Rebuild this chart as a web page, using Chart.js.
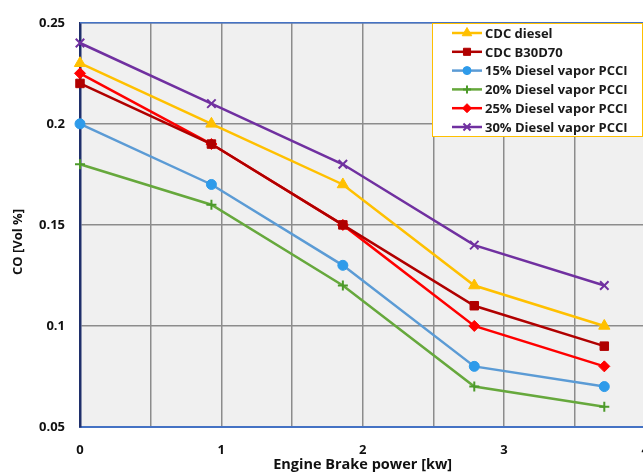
<!DOCTYPE html>
<html>
<head>
<meta charset="utf-8">
<script src="https://cdn.jsdelivr.net/npm/chart.js@4/dist/chart.umd.min.js"></script>
<style>
  html, body { margin: 0; padding: 0; background: #fff; overflow: hidden; }
  #wrap { width: 664px; height: 472px; }
</style>
</head>
<body>
<div id="wrap"><canvas id="coChart" width="664" height="472"></canvas></div>
<script>
// engine brake power [kw]
const powerKw = [0, 0.93, 1.86, 2.79, 3.71];

const seriesLabels = [
    'CDC diesel',
    'CDC B30D70',
    '15% Diesel vapor PCCI',
    '20% Diesel vapor PCCI',
    '25% Diesel vapor PCCI',
    '30% Diesel vapor PCCI'
];

// CO [Vol %]
const cdcDiesel = [0.23, 0.20, 0.17, 0.12, 0.10];
const cdcB30D70 = [0.22, 0.19, 0.15, 0.11, 0.09];
const pcci15 = [0.20, 0.17, 0.13, 0.08, 0.07];
const pcci20 = [0.18, 0.16, 0.12, 0.07, 0.06];
const pcci25 = [0.225, 0.19, 0.15, 0.10, 0.08];
const pcci30 = [0.24, 0.21, 0.18, 0.14, 0.12];

const yTicks = [0.05, 0.1, 0.15, 0.2, 0.25];
const xTicks = [0, 1, 2, 3, 4];
const yTitle = 'CO [Vol %]';

const FONT = '"Open Sans", sans-serif';

function toPoints(vals) {
    return vals.map((v, i) => ({ x: powerKw[i], y: v }));
}

function makeSet(label, vals, color, markColor, style, radius) {
    return {
        label: label,
        data: toPoints(vals),
        borderColor: color,
        backgroundColor: markColor,
        pointBackgroundColor: markColor,
        pointBorderColor: markColor,
        pointBorderWidth: (style === 'cross' || style === 'crossRot') ? 2 : 1,
        pointStyle: style,
        pointRadius: radius,
        borderWidth: 2.5,
        tension: 0,
        fill: false,
        clip: false
    };
}

const datasets = [
    makeSet(seriesLabels[0], cdcDiesel, '#FFC000', '#FFC000', 'triangle', 6.5),
    makeSet(seriesLabels[1], cdcB30D70, '#B00000', '#B00000', 'rect', 6),
    makeSet(seriesLabels[2], pcci15, '#5B9BD5', '#2E9BEA', 'circle', 5),
    makeSet(seriesLabels[3], pcci20, '#66A83C', '#4C9A2A', 'cross', 5),
    makeSet(seriesLabels[4], pcci25, '#FF0000', '#FF0000', 'rectRot', 5.5),
    makeSet(seriesLabels[5], pcci30, '#7030A0', '#7030A0', 'crossRot', 6)
];

// grey plot background, thin top border, y title
const plotFrame = {
    id: 'plotFrame',
    beforeDraw(chart) {
        const { ctx, chartArea: a } = chart;
        ctx.save();
        ctx.fillStyle = '#F0F0F0';
        ctx.fillRect(a.left, a.top, a.right - a.left, a.bottom - a.top);
        ctx.restore();
    },
    afterDraw(chart) {
        const { ctx, chartArea: a } = chart;
        ctx.save();
        ctx.strokeStyle = '#4472C4';
        ctx.lineWidth = 1.5;
        ctx.beginPath();
        ctx.moveTo(a.left, a.top);
        ctx.lineTo(a.right, a.top);
        ctx.stroke();

        ctx.translate(18, 242);
        ctx.rotate(-Math.PI / 2);
        ctx.font = 'bold 13px ' + FONT;
        ctx.fillStyle = '#111';
        ctx.textAlign = 'center';
        ctx.textBaseline = 'middle';
        ctx.fillText(yTitle, 0, 0);
        ctx.restore();
    }
};

// legend box inside the plot, top right
const insideLegend = {
    id: 'insideLegend',
    afterDraw(chart) {
        const ctx = chart.ctx;
        const x0 = 432, y0 = 23, w = 210, h = 113;
        const rowH = 18.8;
        ctx.save();
        ctx.fillStyle = '#FFFFFF';
        ctx.fillRect(x0, y0, w, h);
        ctx.strokeStyle = '#FFC000';
        ctx.lineWidth = 1;
        ctx.strokeRect(x0 + 0.5, y0 + 0.5, w, h);
        ctx.font = 'bold 13px ' + FONT;
        ctx.textBaseline = 'middle';
        chart.data.datasets.forEach((ds, i) => {
            const cy = y0 + 10 + i * rowH;
            ctx.strokeStyle = ds.borderColor;
            ctx.lineWidth = 2.5;
            ctx.beginPath();
            ctx.moveTo(x0 + 20, cy);
            ctx.lineTo(x0 + 50, cy);
            ctx.stroke();
            ctx.fillStyle = ds.pointBackgroundColor;
            ctx.strokeStyle = ds.pointBorderColor;
            ctx.lineWidth = ds.pointBorderWidth;
            Chart.helpers.drawPoint(ctx, {
                pointStyle: ds.pointStyle,
                radius: ds.pointRadius - 1,
                borderWidth: ds.pointBorderWidth,
                rotation: 0
            }, x0 + 35, cy);
            ctx.fillStyle = '#1A1A1A';
            ctx.fillText(ds.label, x0 + 53, cy + 1);
        });
        ctx.restore();
    }
};

new Chart(document.getElementById('coChart'), {
    type: 'line',
    data: { datasets: datasets },
    options: {
        responsive: false,
        animation: false,
        layout: { padding: { top: 11, right: 12, left: 0, bottom: 0 } },
        plugins: {
            legend: { display: false },
            tooltip: { enabled: false }
        },
        scales: {
            x: {
                type: 'linear',
                min: 0,
                max: 4,
                afterBuildTicks: (s) => {
                    const t = [];
                    for (let v = 0; v <= 4.001; v += 0.5) t.push({ value: v });
                    s.ticks = t;
                },
                afterFit: (s) => { s.height = 45; },
                grid: { color: '#8C8C8C', lineWidth: 1.5, drawTicks: false },
                border: { color: '#4472C4', width: 2 },
                ticks: {
                    padding: 15,
                    color: '#111',
                    font: { family: FONT, weight: 'bold', size: 13 },
                    maxRotation: 0,
                    autoSkip: false,
                    callback: (v) => xTicks.includes(v) ? String(v) : ''
                },
                title: {
                    display: true,
                    text: 'Engine Brake power [kw]',
                    color: '#111',
                    font: { family: FONT, weight: 'bold', size: 14.5 },
                    padding: { top: 0, bottom: -2 }
                }
            },
            y: {
                min: 0.05,
                max: 0.25,
                afterBuildTicks: (s) => { s.ticks = yTicks.map(v => ({ value: v })); },
                afterFit: (s) => { s.width = 80; },
                grid: { color: '#8C8C8C', lineWidth: 1.5, drawTicks: false },
                border: { color: '#1F2F6B', width: 2.5 },
                ticks: {
                    padding: 15,
                    color: '#111',
                    font: { family: FONT, weight: 'bold', size: 13 },
                    callback: (v) => String(parseFloat(v.toFixed(2)))
                }
            }
        }
    },
    plugins: [plotFrame, insideLegend]
});
</script>
</body>
</html>
